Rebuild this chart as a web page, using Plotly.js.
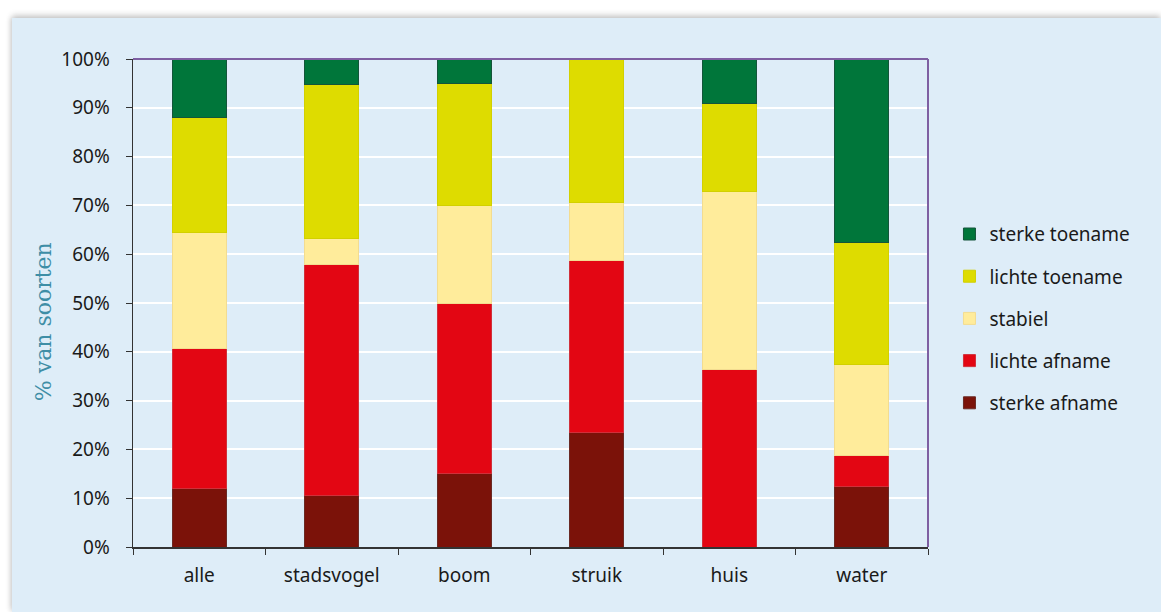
<!DOCTYPE html>
<html>
<head>
<meta charset="utf-8">
<script src="https://cdn.plot.ly/plotly-3.0.1.min.js"></script>
<style>
html,body{margin:0;padding:0;background:#ffffff;width:1161px;height:612px;overflow:hidden;}
#frame{position:absolute;left:12px;top:18px;width:1149px;height:594px;background:#DEEDF8;box-shadow:0 -3px 6px rgba(0,0,0,0.18),-2px 0 5px rgba(0,0,0,0.10);}
#chart{width:1149px;height:594px;}
</style>
</head>
<body>
<div id="frame"><div id="chart"></div></div>
<script>
const categories = ['alle','stadsvogel','boom','struik','huis','water'];
const sterkeAfname  = [12.0, 10.5, 15.0, 23.5, 0.0, 12.5];
const lichteAfname  = [28.7, 47.4, 35.0, 35.3, 36.4, 6.25];
const stabiel       = [23.7, 5.3, 20.0, 11.8, 36.4, 18.75];
const lichteToename = [23.6, 31.5, 25.0, 29.4, 18.1, 25.0];
const sterkeToename = [12.0, 5.3, 5.0, 0.0, 9.1, 37.5];

const seriesNames = ['sterke afname','lichte afname','stabiel','lichte toename','sterke toename'];
const seriesValues = [sterkeAfname, lichteAfname, stabiel, lichteToename, sterkeToename];
const seriesColors = ['#7B1209','#E30613','#FFEC9B','#DEDC00','#00763A'];
const seriesLines  = ['#6a2a24','#d0303a','#f3dc90','#d2d000','#14553a'];

const traces = seriesNames.map((n,i)=>({
  type:'bar', name:n, x:categories, y:seriesValues[i],
  legendgroup:'g'+i, legendrank:100-i,
  marker:{color:seriesColors[i], line:{color:seriesLines[i], width:1}},
  hoverinfo:'skip'
}));

const fontFam = '"Noto Sans", "Open Sans", sans-serif';
const tickFont = {family:fontFam, size:19, color:'#1a1a1a'};

const layout = {
  width:1149, height:594,
  paper_bgcolor:'#DEEDF8', plot_bgcolor:'#DEEDF8',
  margin:{l:121, r:233, t:41, b:65},
  barmode:'stack', bargap:0.59,
  showlegend:true,
  legend:{
    x:1.027, xanchor:'left',
    y:0.68, yanchor:'top',
    traceorder:'grouped', tracegroupgap:14.5,
    font:{family:fontFam, size:19, color:'#1a1a1a'},
    bgcolor:'rgba(0,0,0,0)', itemwidth:30
  },
  xaxis:{
    type:'category', tickson:'boundaries', ticks:'outside', ticklen:6, tickcolor:'#333',
    showline:true, linecolor:'#333', linewidth:1.5, showgrid:false,
    tickfont:tickFont, zeroline:false, ticklabelstandoff:11
  },
  yaxis:{
    range:[0,100], dtick:10, ticksuffix:'%', ticks:'outside', ticklen:6, tickcolor:'#333',
    showline:true, linecolor:'#333', linewidth:1.5,
    showgrid:true, gridcolor:'#ffffff', gridwidth:2, zeroline:false,
    tickfont:tickFont, ticklabelstandoff:12
  },
  annotations:[
    {text:'% van soorten', xref:'paper', yref:'paper', x:-0.113, y:0.461, xanchor:'center', yanchor:'middle',
     textangle:-90, showarrow:false,
     font:{family:'"DejaVu Serif", "Liberation Serif", serif', size:22, color:'#3E8EA6'}}
  ],
  shapes:[
    {type:'line', xref:'paper', yref:'paper', x0:0, x1:1, y0:1, y1:1, line:{color:'#7E5FA2', width:2}, layer:'above'},
    {type:'line', xref:'paper', yref:'paper', x0:1, x1:1, y0:0, y1:1, line:{color:'#7E5FA2', width:2}, layer:'above'}
  ]
};

Plotly.newPlot('chart', traces, layout, {displayModeBar:false, staticPlot:true});
</script>
</body>
</html>
